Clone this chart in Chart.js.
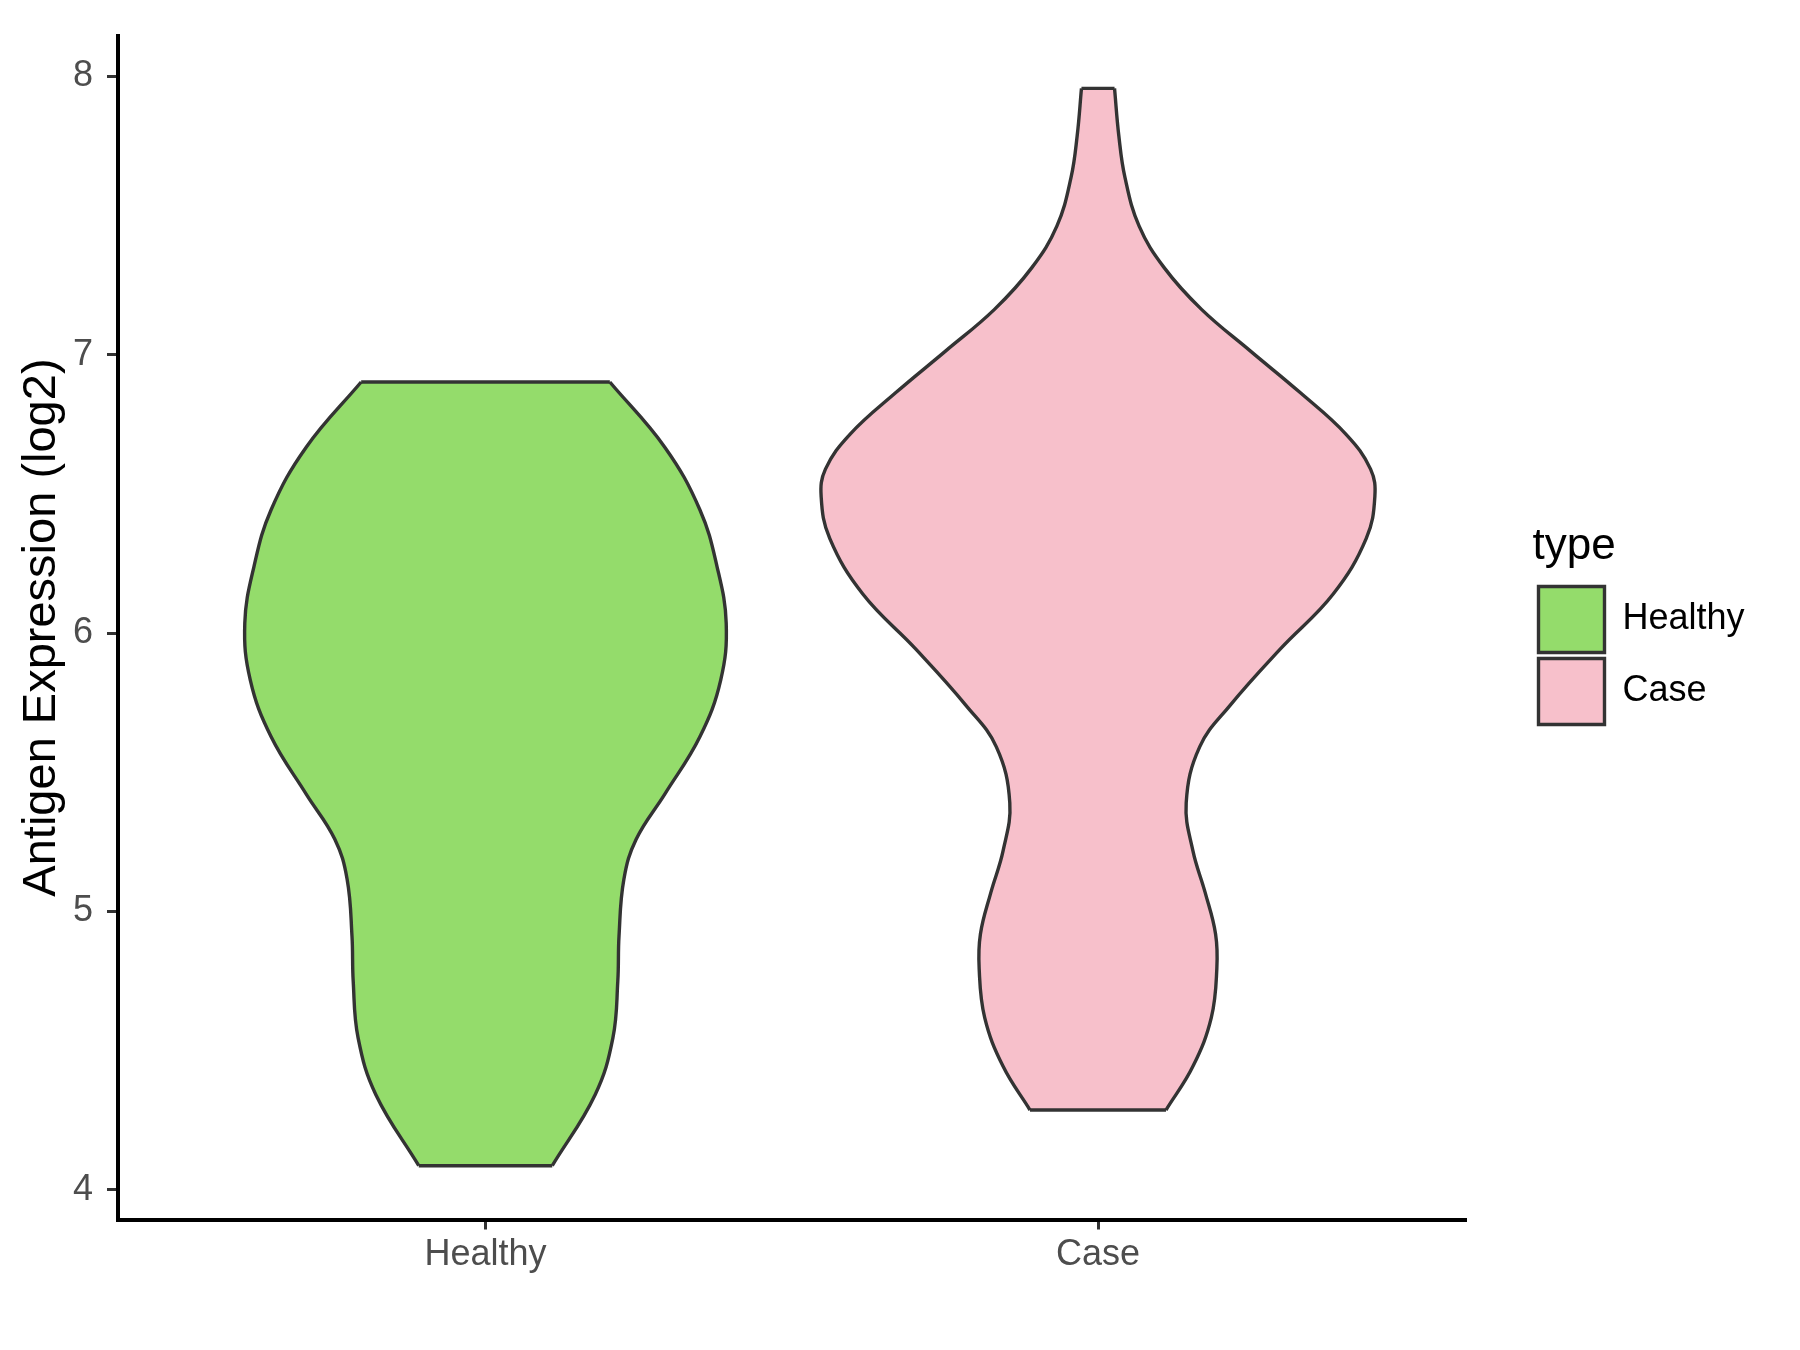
<!DOCTYPE html>
<html>
<head>
<meta charset="utf-8">
<title>Antigen Expression (log2)</title>
<script src="https://cdn.jsdelivr.net/npm/chart.js@4.4.1/dist/chart.umd.min.js"></script>
<style>
    html, body { margin: 0; padding: 0; background: #ffffff; }
</style>
</head>
<body>
<canvas id="violin-chart" width="1800" height="1350"></canvas>
<script>
const groups = ['Healthy', 'Case'];
const groupColors = ['#94DC6B', '#F7C0CB'];

// outline of each violin: expression level and half width (category units)
const healthyLevels = [4.086, 4.341, 4.545, 4.749, 4.912, 5.116, 5.259, 5.422, 5.627, 5.831, 6.035, 6.239, 6.443, 6.667, 6.902];
const healthyHalfWidths = [0.109, 0.179, 0.208, 0.216, 0.218, 0.226, 0.246, 0.293, 0.350, 0.384, 0.393, 0.378, 0.350, 0.293, 0.203];

const caseLevels = [4.286, 4.443, 4.618, 4.793, 4.918, 5.067, 5.217, 5.390, 5.591, 5.741, 5.941, 6.140, 6.340, 6.490, 6.589, 6.714, 6.864, 7.013, 7.163, 7.313, 7.463, 7.637, 7.787, 7.957];
const caseHalfWidths = [0.111, 0.155, 0.185, 0.194, 0.192, 0.175, 0.155, 0.144, 0.166, 0.216, 0.297, 0.384, 0.438, 0.452, 0.445, 0.405, 0.330, 0.249, 0.169, 0.108, 0.067, 0.044, 0.034, 0.027];

const yTicks = [4, 5, 6, 7, 8];
const yRange = [3.8926, 8.1468];
const xRange = [0.4, 2.6];

const FONT = "'Liberation Sans', Arial, sans-serif";
const OUTLINE = '#333333';
const LEGEND_LEFT = 1532.5;

const ViolinChart = {
    chart: null,

    init() {
        Chart.defaults.font.family = FONT;

        const violins = [
            { levels: healthyLevels, widths: healthyHalfWidths },
            { levels: caseLevels, widths: caseHalfWidths },
        ];

        const datasets = [];
        violins.forEach((violin, i) => {
            datasets.push(...this.buildViolin(i + 1, violin.levels, violin.widths, groupColors[i]));
        });

        this.chart = new Chart(document.getElementById('violin-chart'), {
            type: 'line',
            data: { datasets },
            options: this.buildOptions(),
        });

        // legend width is only known after the first layout; move it so it starts where the reference's does
        this.chart.options.layout.padding.right = 1800 - LEGEND_LEFT - this.chart.legend.width;
        this.chart.update();
    },

    buildViolin(center, levels, widths, color) {
        const edge = side => levels.map((level, i) => ({ x: center + side * widths[i], y: level }));
        const cap = index => [
            { x: center - widths[index], y: levels[index] },
            { x: center + widths[index], y: levels[index] },
        ];
        const line = {
            borderColor: OUTLINE,
            borderWidth: 3.4,
            pointRadius: 0,
            fill: false,
            tension: 0.4,
        };

        return [
            { ...line, data: edge(-1), fill: '+1', backgroundColor: color },
            { ...line, data: edge(1) },
            { ...line, data: cap(0), tension: 0 },
            { ...line, data: cap(levels.length - 1), tension: 0 },
        ];
    },

    buildOptions() {
        return {
            indexAxis: 'y',
            responsive: false,
            animation: false,
            events: [],
            layout: { padding: { top: 23, right: 60, bottom: 0, left: 0 } },
            scales: {
                x: {
                    type: 'linear',
                    min: xRange[0],
                    max: xRange[1],
                    afterBuildTicks: scale => { scale.ticks = groups.map((name, i) => ({ value: i + 1 })); },
                    afterFit: scale => { scale.height = 130.5; },
                    grid: { drawOnChartArea: false, tickLength: 10, color: OUTLINE, lineWidth: 3 },
                    border: { color: '#000000', width: 4 },
                    ticks: {
                        color: '#4D4D4D',
                        font: { size: 36 },
                        padding: 3.5,
                        maxRotation: 0,
                        callback: value => groups[value - 1] || '',
                    },
                },
                y: {
                    type: 'linear',
                    min: yRange[0],
                    max: yRange[1],
                    afterBuildTicks: scale => { scale.ticks = yTicks.map(value => ({ value })); },
                    afterFit: scale => { scale.width = 118; },
                    grid: { drawOnChartArea: false, tickLength: 11, color: OUTLINE, lineWidth: 3 },
                    border: { color: '#000000', width: 4 },
                    ticks: { color: '#4D4D4D', font: { size: 36 }, padding: 14 },
                    title: {
                        display: true,
                        text: 'Antigen Expression (log2)',
                        color: '#000000',
                        font: { size: 47 },
                        padding: { top: 13.5, bottom: 0 },
                    },
                },
                // empty space between the panel and the legend
                legendGap: {
                    type: 'linear',
                    position: 'right',
                    grid: { display: false },
                    border: { display: false },
                    ticks: { display: false },
                    afterFit: scale => { scale.width = 67; },
                },
            },
            plugins: {
                tooltip: { enabled: false },
                filler: { drawTime: 'beforeDatasetsDraw' },
                legend: {
                    position: 'right',
                    fullSize: false,
                    title: {
                        display: true,
                        text: 'type',
                        position: 'start',
                        color: '#000000',
                        font: { size: 44 },
                        padding: { top: 0, bottom: 3 },
                    },
                    labels: {
                        boxWidth: 66,
                        boxHeight: 66,
                        padding: 6,
                        color: '#000000',
                        font: { size: 36 },
                        generateLabels: () => groups.map((name, i) => ({
                            text: name,
                            fillStyle: groupColors[i],
                            strokeStyle: OUTLINE,
                            lineWidth: 3.4,
                            hidden: false,
                            datasetIndex: i * 4,
                        })),
                    },
                },
            },
        };
    },
};

ViolinChart.init();
</script>
</body>
</html>
